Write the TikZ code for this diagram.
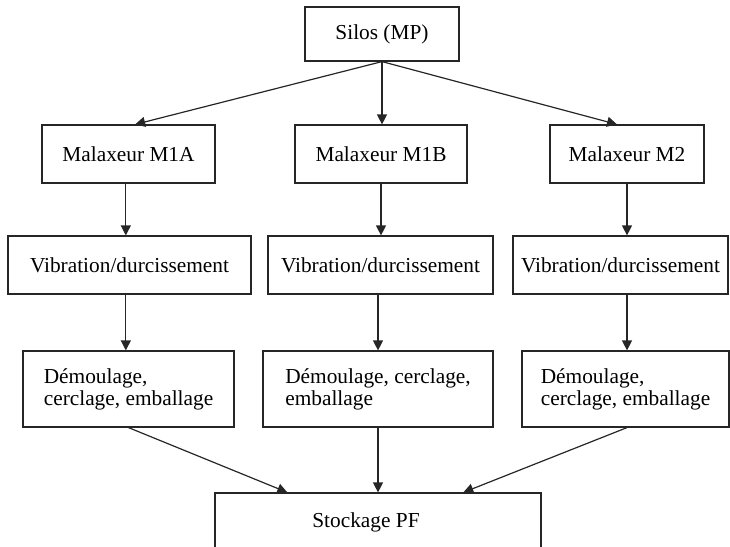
\documentclass[tikz,border=0pt]{standalone}
\usepackage{fontspec}
\setmainfont{Liberation Serif}
\usetikzlibrary{arrows.meta}

\tikzset{every picture/.style={line width=0.9pt}}
\tikzset{
  stepbox/.style={draw=black!85, rectangle, inner sep=0pt, align=left,
    font=\fontsize{16}{16.5}\selectfont},
  flow/.style={draw=black!85, -{Triangle[length=7.5pt,width=7.5pt]}}
}

\begin{document}
\begin{tikzpicture}[x=0.75pt,y=0.75pt,yscale=-1,xscale=1]
\useasboundingbox (0,0) rectangle (730,546);

%Shape: Rectangle [silos] 
\node [stepbox, minimum width=115.5pt, minimum height=40.5pt] (silos) at (382,34) {Silos (MP)};
%Shape: Rectangle [malaxeurs] 
\node [stepbox, minimum width=129.75pt, minimum height=43.5pt] (m1a) at (128.5,154) {Malaxeur M1A};
\node [stepbox, minimum width=129pt, minimum height=43.5pt] (m1b) at (381,154) {Malaxeur M1B};
\node [stepbox, minimum width=115.5pt, minimum height=43.5pt] (m2) at (627,154) {Malaxeur M2};
%Shape: Rectangle [vibration] 
\node [stepbox, minimum width=182.25pt, minimum height=43.5pt] (vib1a) at (129.5,265) {Vibration/durcissement};
\node [stepbox, minimum width=168.75pt, minimum height=43.5pt] (vib1b) at (380.5,265) {Vibration/durcissement};
\node [stepbox, minimum width=161.25pt, minimum height=43.5pt] (vib2) at (620.5,265) {Vibration/durcissement};
%Shape: Rectangle [demoulage] 
\node [stepbox, minimum width=158.25pt, minimum height=57pt, text depth=2.5pt] (dem1a) at (128.5,389) {Démoulage,\\cerclage, emballage};
\node [stepbox, minimum width=172.5pt, minimum height=57pt, text depth=2.5pt] (dem1b) at (378,389) {Démoulage, cerclage,\\emballage};
\node [stepbox, minimum width=155.25pt, minimum height=57pt, text depth=2.5pt] (dem2) at (625.5,389) {Démoulage,\\cerclage, emballage};
%Shape: Rectangle [stockage] 
\node [stepbox, minimum width=244.5pt, minimum height=43.5pt] (stock) at (378,522) {Stockage PF\hspace{18pt}};

%Straight Lines [silos -> malaxeurs] 
\draw [flow] (silos.south) -- ([xshift=5pt]m1a.north);
\draw [flow] (silos.south) -- (silos.south |- m1b.north);
\draw [flow] (silos.south) -- ([xshift=-7.5pt]m2.north);
%Straight Lines [malaxeurs -> vibration] 
\draw [flow] ([xshift=-2pt]m1a.south) -- ([xshift=-2pt]m1a.south |- vib1a.north);
\draw [flow] (m1b.south) -- (m1b.south |- vib1b.north);
\draw [flow] (m2.south) -- (m2.south |- vib2.north);
%Straight Lines [vibration -> demoulage] 
\draw [flow] ([xshift=-2pt]m1a.south |- vib1a.south) -- ([xshift=-2pt]m1a.south |- dem1a.north);
\draw [flow] (dem1b.north |- vib1b.south) -- (dem1b.north);
\draw [flow] (m2.south |- vib2.south) -- (m2.south |- dem2.north);
%Straight Lines [demoulage -> stockage] 
\draw [flow] (dem1a.south) -- ([xshift=-68pt]stock.north);
\draw [flow] (dem1b.south) -- (stock.north);
\draw [flow] (m2.south |- dem2.south) -- ([xshift=64pt]stock.north);
\end{tikzpicture}
\end{document}
